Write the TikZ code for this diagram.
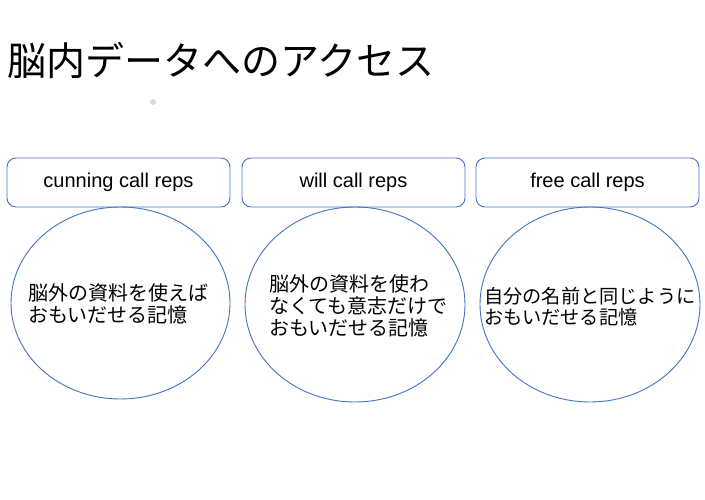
\documentclass[tikz,border=0pt]{standalone}
\usepackage{fontspec}
\setmainfont{Liberation Sans}
\newfontfamily\jpfont{Noto Sans CJK JP}
\usetikzlibrary{shapes.geometric}
\definecolor{lineblue}{HTML}{4472C4}
\tikzset{
  headbox/.style={draw=lineblue, line width=0.9pt, rounded corners=9pt, minimum width=223pt, minimum height=49pt, inner sep=0pt, font=\fontsize{20}{22}\selectfont},
  memoval/.style={draw=lineblue, line width=0.9pt, ellipse, minimum width=220pt, minimum height=195pt, inner sep=0pt},
  memotext/.style={inner sep=0pt, align=left, font=\jpfont\fontsize{20}{22}\selectfont},
}
\begin{document}
\begin{tikzpicture}[x=1pt,y=-1pt]
\useasboundingbox[fill=white] (0,0) rectangle (705,500);
\node[anchor=west, inner sep=0pt, font=\jpfont\fontsize{39}{44}\selectfont] (title) at (7,60) {脳内データへのアクセス};
\node[circle, fill=black!15, inner sep=0pt, minimum size=6pt] (dot) at (153,102) {};
\node[headbox] (h1) at (118.5,182.5) {\raisebox{-1.5pt}{cunning call reps}};
\node[headbox] (h2) at (353.5,182.5) {\raisebox{-1.5pt}{will call reps}};
\node[headbox] (h3) at (587.5,182.5) {\raisebox{-1.5pt}{free call reps}};
\node[memoval, minimum width=219pt, minimum height=192pt] (e1) at (120.5,303) {};
\node[memoval] (e2) at (355,304.5) {};
\node[memoval] (e3) at (590,304.5) {};
\node[memotext, anchor=west] (t1) at (28,304) {脳外の資料を使えば\\おもいだせる記憶};
\node[memotext, anchor=west] (t2) at (269,306) {脳外の資料を使わ\\なくても意志だけで\\おもいだせる記憶};
\node[memotext, anchor=west, font=\jpfont\fontsize{19.2}{21}\selectfont] (t3) at (484,307) {自分の名前と同じように\\おもいだせる記憶};
\end{tikzpicture}
\end{document}
